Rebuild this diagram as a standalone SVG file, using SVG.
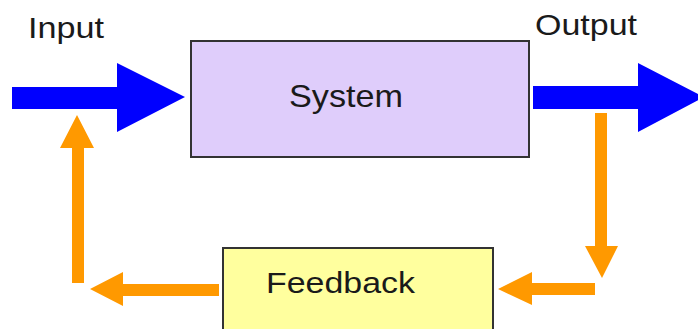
<svg xmlns="http://www.w3.org/2000/svg" width="698" height="329" viewBox="0 0 698 329">
<style>
.lbl{font-family:"Liberation Sans",Arial,sans-serif;fill:#1a1a1a}
.blue{fill:#0000ff}
.orange{fill:#ff9900}
.box{stroke:#333333;stroke-width:2}
</style>
<rect width="698" height="329" fill="#ffffff"/>
<g id="input-label"><text class="lbl" x="28" y="38" font-size="29" textLength="76" lengthAdjust="spacingAndGlyphs">Input</text></g>
<g id="output-label"><text class="lbl" x="535" y="35" font-size="30" textLength="102" lengthAdjust="spacingAndGlyphs">Output</text></g>
<g id="system">
<rect class="box" x="191" y="41" width="338" height="116" fill="#dfcdfb"/>
<text class="lbl" x="289" y="107" font-size="32" textLength="114" lengthAdjust="spacingAndGlyphs">System</text>
</g>
<g id="feedback">
<rect class="box" x="223" y="248" width="270" height="90" fill="#ffff9e"/>
<text class="lbl" x="266" y="293" font-size="30" textLength="149" lengthAdjust="spacingAndGlyphs">Feedback</text>
</g>
<g id="connectors">
<polygon class="blue" points="12,87 117,87 117,63 185,97 117,132 117,109 12,109"/>
<polygon class="blue" points="533,86 638,86 638,63 704,97 638,132 638,109 533,109"/>
<polygon class="orange" points="595,113 607,113 607,246 618,246 602,278 585,246 595,246"/>
<polygon class="orange" points="595,283 595,295 532,295 532,305 498,289 532,272 532,283"/>
<polygon class="orange" points="219,284 219,296 123,296 123,306 90,289 123,272 123,284"/>
<polygon class="orange" points="72,283 84,283 84,148 94,148 77,115 60,148 72,148"/>
</g>
</svg>
